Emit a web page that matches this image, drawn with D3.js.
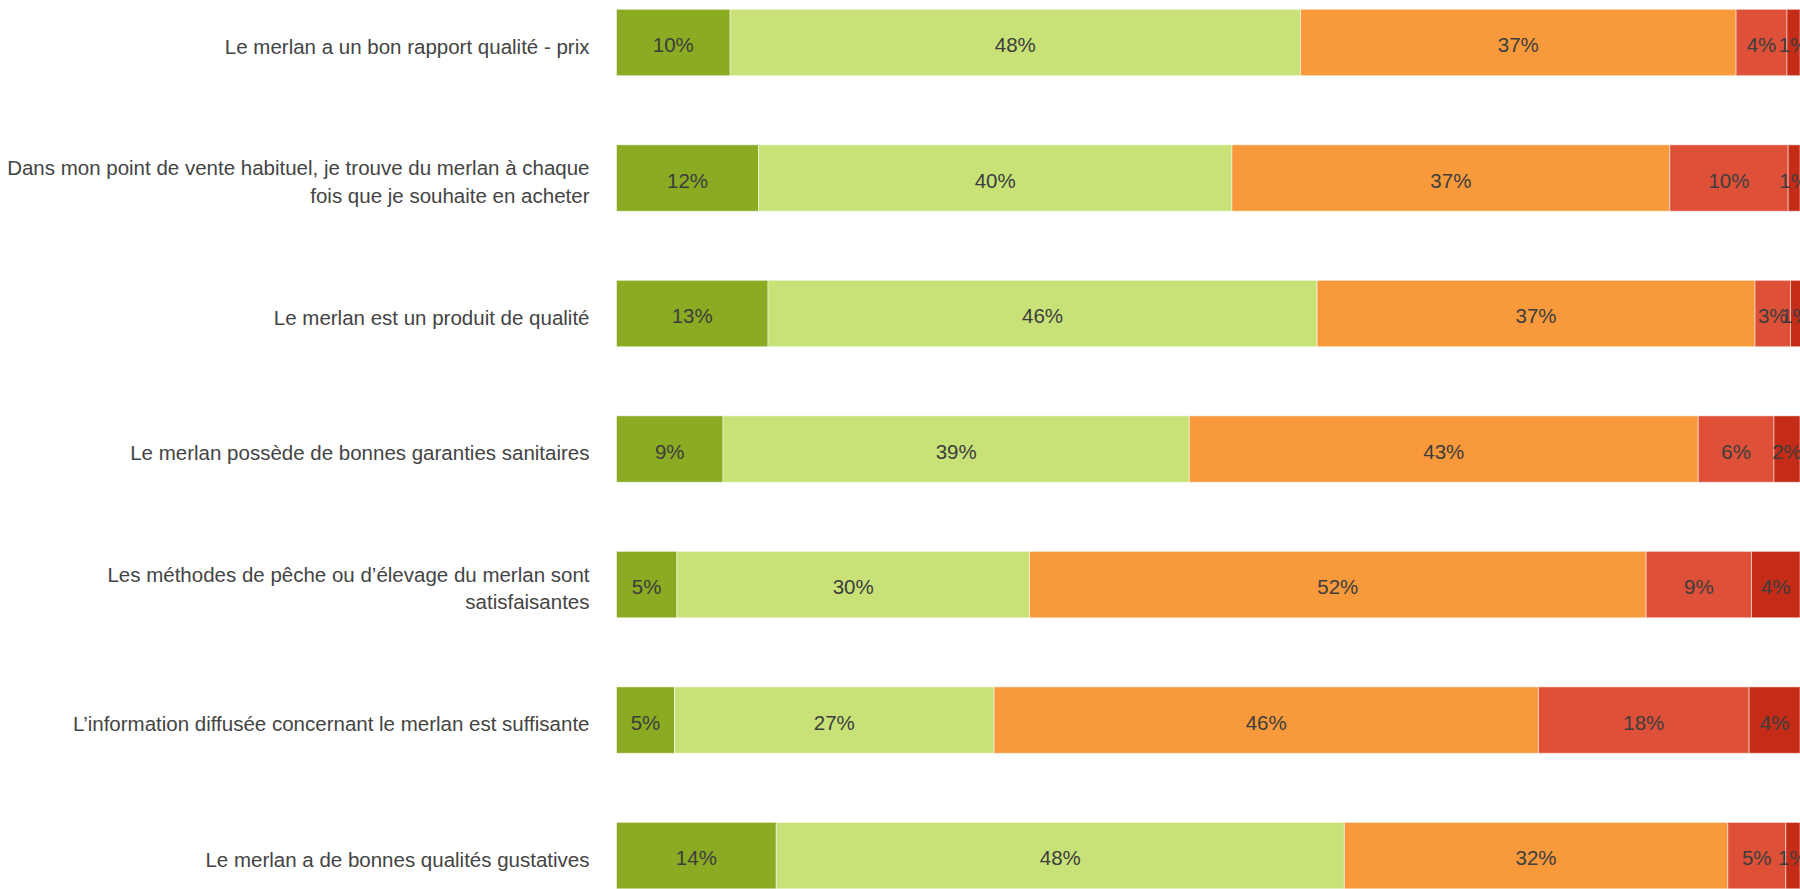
<!DOCTYPE html>
<html>
<head>
<meta charset="utf-8">
<script src="https://cdn.jsdelivr.net/npm/d3@7"></script>
<style>
  body { margin: 0; background: #fff; }
  svg { display: block; }
</style>
</head>
<body>
<div id="chart"></div>
<script>
// categories (top to bottom)
var questions = [
    "Le merlan a un bon rapport qualité - prix",
    "Dans mon point de vente habituel, je trouve du merlan à chaque fois que je souhaite en acheter",
    "Le merlan est un produit de qualité",
    "Le merlan possède de bonnes garanties sanitaires",
    "Les méthodes de pêche ou d’élevage du merlan sont satisfaisantes",
    "L’information diffusée concernant le merlan est suffisante",
    "Le merlan a de bonnes qualités gustatives"
];

// answer levels, one array per series (percent)
var levels = ["tout à fait", "plutôt", "plutôt pas", "pas du tout", "ne sait pas"];
var toutAFait = [9.6, 12, 12.8, 9.0, 5.1, 4.9, 13.5];
var plutot = [48.2, 40, 46.4, 39.4, 29.8, 27.0, 48.0];
var plutotPas = [36.8, 37, 37.0, 43.0, 52.1, 46.0, 32.4];
var pasDuTout = [4.3, 10, 3.0, 6.4, 8.9, 17.8, 4.9];
var nsp = [1.1, 1, 0.9, 2.2, 4.1, 4.3, 1.2];

var colors = ["#8aab22", "#c8e278", "#f89a3c", "#de5038", "#c42c17"];

var width = 1800,
    height = 889,
    margin = { top: 9.3, right: 0, bottom: 0, left: 616.5 };

var svg = d3.select("#chart")
    .append("svg")
    .attr("width", width)
    .attr("height", height);

var rows = questions.map(function (q, i) {
    return {
        q: q,
        "tout à fait": toutAFait[i],
        "plutôt": plutot[i],
        "plutôt pas": plutotPas[i],
        "pas du tout": pasDuTout[i],
        "ne sait pas": nsp[i]
    };
});

var x = d3.scaleLinear()
    .domain([0, 100])
    .range([margin.left, width - margin.right]);

var y = d3.scaleBand()
    .domain(questions)
    .range([margin.top, 888.8])
    .paddingInner(0.51)
    .paddingOuter(0);

var z = d3.scaleOrdinal().domain(levels).range(colors);

var stacked = d3.stack().keys(levels)(rows);

var layer = svg.append("g")
    .selectAll("g")
    .data(stacked)
    .enter().append("g")
    .attr("fill", function (d) { return z(d.key); });

layer.selectAll("rect")
    .data(function (d) { return d; })
    .enter().append("rect")
    .attr("x", function (d) { return x(d[0]); })
    .attr("y", function (d) { return y(d.data.q); })
    .attr("width", function (d) { return x(d[1]) - x(d[0]); })
    .attr("height", y.bandwidth())
    .attr("stroke", "#fff")
    .attr("stroke-opacity", 0.5)
    .attr("stroke-width", 1);

// value labels
layer.selectAll("text")
    .data(function (d) { return d; })
    .enter().append("text")
    .attr("x", function (d) { return (x(d[0]) + x(d[1])) / 2; })
    .attr("y", function (d) { return y(d.data.q) + y.bandwidth() / 2; })
    .attr("dy", 9.5)
    .attr("text-anchor", "middle")
    .attr("fill", "#3d3d3d")
    .attr("font-family", "'Liberation Sans', Arial, sans-serif")
    .attr("font-size", 20.5)
    .text(function (d) { return Math.round(d[1] - d[0]) + "%"; });

// category axis (no line, no ticks)
var yAxis = svg.append("g")
    .attr("transform", "translate(" + (margin.left - 27) + ",0)")
    .call(d3.axisLeft(y).tickSize(0).tickPadding(0));

yAxis.select(".domain").remove();
yAxis.selectAll("text")
    .attr("fill", "#444")
    .attr("font-family", "'Liberation Sans', Arial, sans-serif")
    .attr("font-size", 20.5)
    .call(wrap, 600);

function wrap(texts, maxWidth) {
    texts.each(function () {
        var text = d3.select(this),
            words = text.text().split(/\s+/),
            lines = [],
            line = [];
        text.text(null);
        var probe = text.append("tspan");
        words.forEach(function (w) {
            line.push(w);
            probe.text(line.join(" "));
            if (probe.node().getComputedTextLength() > maxWidth && line.length > 1) {
                line.pop();
                lines.push(line.join(" "));
                line = [w];
            }
        });
        lines.push(line.join(" "));
        probe.remove();
        var lh = 27.5;
        var first = -(lines.length - 1) * lh / 2;
        lines.forEach(function (l, i) {
            text.append("tspan")
                .attr("x", 0)
                .attr("y", first + i * lh)
                .attr("dy", 11)
                .text(l);
        });
    });
}
</script>
</body>
</html>
